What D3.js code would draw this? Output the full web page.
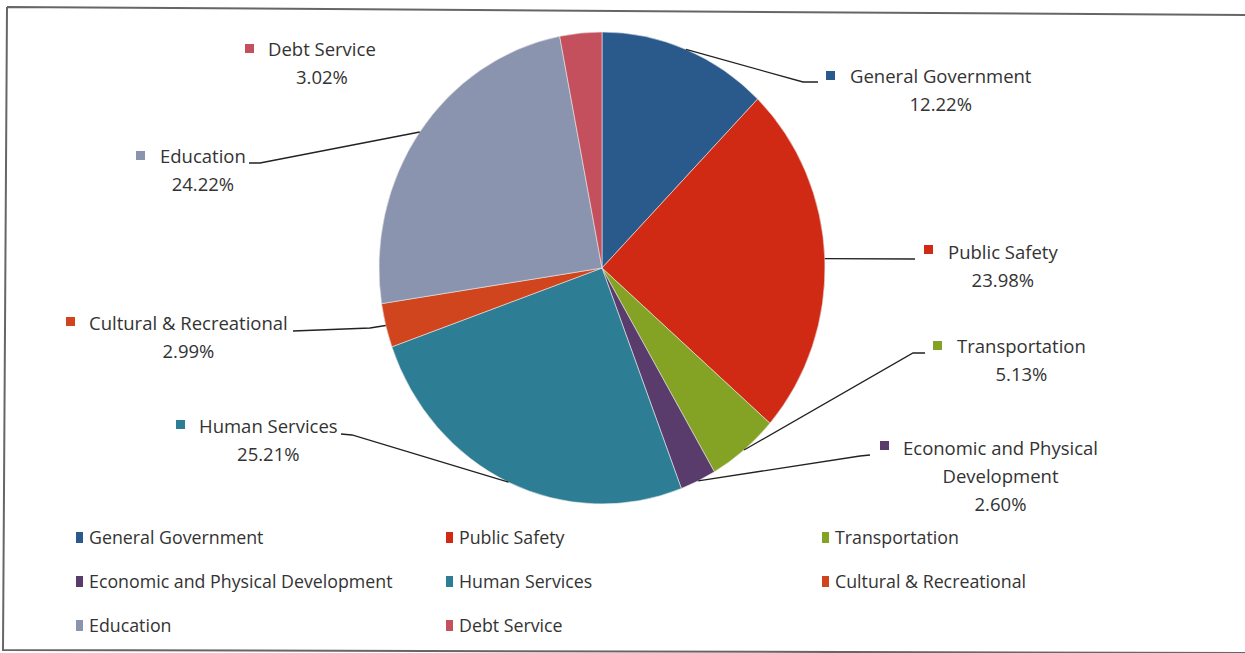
<!DOCTYPE html>
<html>
<head>
<meta charset="utf-8">
<script src="https://cdn.jsdelivr.net/npm/d3@7"></script>
<style>
  html, body { margin: 0; padding: 0; background: #fff; }
  svg { display: block; }
  text { font-family: "Open Sans", "Noto Sans", sans-serif; fill: #333; }
</style>
</head>
<body>
<svg id="chart" width="1245" height="653"></svg>
<script>
// Budget shares by function (percent of total)
const categories = [
  "General Government", "Public Safety", "Transportation",
  "Economic and Physical Development", "Human Services",
  "Cultural & Recreational", "Education", "Debt Service"
];
const shares = [12.22, 23.98, 5.13, 2.60, 25.21, 2.99, 24.22, 3.02];
const shareLabels = ["12.22%", "23.98%", "5.13%", "2.60%", "25.21%", "2.99%", "24.22%", "3.02%"];
const colors = ["#2a5a8b", "#d02a14", "#84a224", "#5a3c6c", "#2d7e95", "#d0451d", "#8b94ae", "#c4505e"];

// Label name lines (wrapped where the chart wraps them)
const labelLines = [
  ["General Government"], ["Public Safety"], ["Transportation"],
  ["Economic and Physical", "Development"], ["Human Services"],
  ["Cultural & Recreational"], ["Education"], ["Debt Service"]
];

const svg = d3.select("#chart");

// Frame (slightly skewed, as printed)
svg.append("path")
  .attr("d", "M7,7 L1245,15 M7,7 L3,650 L1245,653")
  .attr("fill", "none").attr("stroke", "#666").attr("stroke-width", 2);

// Pie geometry: slightly taller than wide
const cx = 602, cy = 268, rx = 223, ry = 236;
const pie = d3.pie().sort(null).value(d => d)(shares);
const arc = d3.arc().innerRadius(0).outerRadius(rx);

const g = svg.append("g").attr("transform", `translate(${cx},${cy}) scale(1,${ry / rx})`);
g.selectAll("path.slice")
  .data(pie)
  .join("path")
  .attr("class", "slice")
  .attr("d", arc)
  .attr("fill", (d, i) => colors[i])
  .attr("stroke", "#e8e8e8")
  .attr("stroke-width", 0.6)
  .attr("vector-effect", "non-scaling-stroke");

// Edge point of a slice at its mid angle, in page coordinates
function edgePoint(d) {
  const a = (d.startAngle + d.endAngle) / 2;
  return [cx + rx * Math.sin(a), cy - ry * Math.cos(a)];
}

// Data label layout: name start x, first baseline y, leader line elbow points
const labelPos = [
  { x: 850, y: 83, marker: [826, 71], leader: [[803, 82], [818, 82]] },
  { x: 948, y: 259, marker: [924, 245], leader: [[915, 259]] },
  { x: 957, y: 353, marker: [933, 341], leader: [[913, 353], [925, 353]] },
  { x: 903, y: 455, marker: [880, 441], leader: [[860, 456], [870, 455]] },
  { x: 199, y: 433, marker: [176, 420], leader: [[352, 435], [341, 434]] },
  { x: 89, y: 330, marker: [66, 317], leader: [[370, 328], [293, 331]] },
  { x: 160, y: 163, marker: [136, 151], leader: [[260, 163], [249, 163]] },
  { x: 268, y: 56, marker: [245, 44], leader: null }
];

const fs = 18.5;
const line = d3.line();
pie.forEach((d, i) => {
  const p = labelPos[i];
  if (p.leader) {
    svg.append("path")
      .attr("d", line([edgePoint(d), ...p.leader]))
      .attr("fill", "none").attr("stroke", "#222").attr("stroke-width", 1.3);
  }
  svg.append("rect")
    .attr("x", p.marker[0]).attr("y", p.marker[1])
    .attr("width", 9).attr("height", 9)
    .attr("fill", colors[i]);
  const t = svg.append("text").attr("font-size", fs);
  const names = labelLines[i];
  names.forEach((s, k) => {
    t.append("tspan").attr("x", p.x).attr("y", p.y + k * 28).text(s);
  });
  const firstW = t.select("tspan").node().getComputedTextLength();
  svg.append("text")
    .attr("font-size", fs)
    .attr("text-anchor", "middle")
    .attr("x", p.x + firstW / 2)
    .attr("y", p.y + names.length * 28)
    .text(shareLabels[i]);
  // center extra name lines under the first one
  t.selectAll("tspan").filter((_, k) => k > 0)
    .attr("x", p.x + firstW / 2).attr("text-anchor", "middle");
});

// Legend: three columns, three rows
const legendCols = [76, 446, 822];
const legendRows = [538, 582, 626];
const legend = svg.append("g");
categories.forEach((c, i) => {
  const col = i % 3, row = Math.floor(i / 3);
  const x = legendCols[col], y = legendRows[row];
  legend.append("rect")
    .attr("x", x).attr("y", y - 6)
    .attr("width", 7).attr("height", 11)
    .attr("fill", colors[i]);
  legend.append("text")
    .attr("x", x + 13).attr("y", y + 6)
    .attr("font-size", 17.8)
    .text(c);
});
</script>
</body>
</html>
